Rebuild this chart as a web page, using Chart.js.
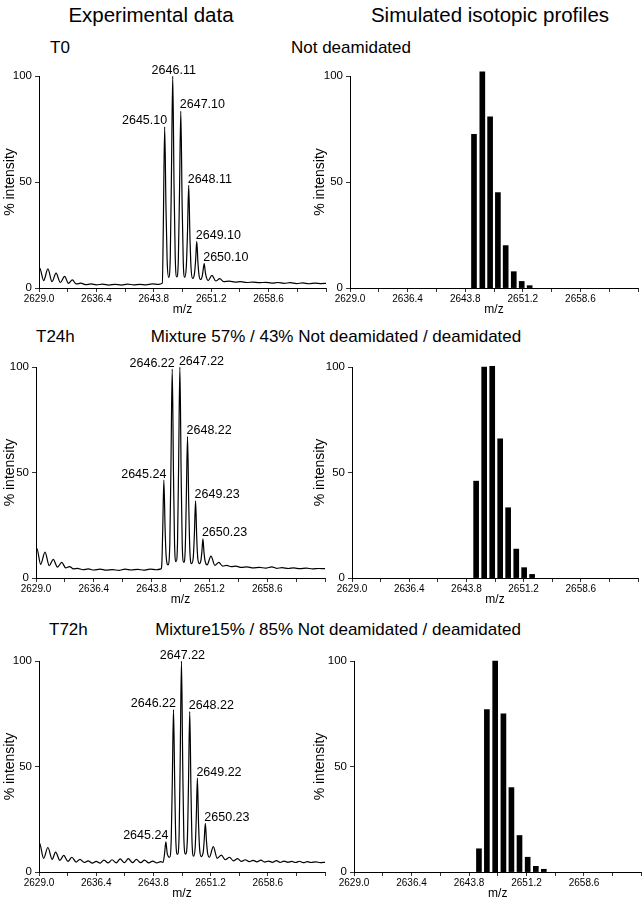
<!DOCTYPE html>
<html><head><meta charset="utf-8">
<script src="https://cdn.jsdelivr.net/npm/chart.js@4.4.1/dist/chart.umd.min.js"></script>
<style>
html,body{margin:0;padding:0;background:#fff;width:643px;height:899px;overflow:hidden;font-family:"Liberation Sans",Arial,sans-serif;}
.panel{position:absolute;}
.txt{position:absolute;white-space:nowrap;color:#000;line-height:1;transform:translate(-50%,-50%);}
.lt{position:absolute;white-space:nowrap;color:#000;line-height:1;transform:translate(0,-50%);}
</style></head><body>
<div class="txt" style="left:151px;top:15px;font-size:20.5px">Experimental data</div>
<div class="txt" style="left:490px;top:15px;font-size:20.5px">Simulated isotopic profiles</div>
<div class="lt" style="left:50px;top:47px;font-size:17px">T0</div>
<div class="txt" style="left:351px;top:47px;font-size:17px">Not deamidated</div>
<div class="lt" style="left:36px;top:336px;font-size:17px">T24h</div>
<div class="txt" style="left:336px;top:336px;font-size:17px">Mixture 57% / 43% Not deamidated / deamidated</div>
<div class="lt" style="left:49px;top:629px;font-size:17px">T72h</div>
<div class="txt" style="left:338px;top:629px;font-size:17px">Mixture15% / 85% Not deamidated / deamidated</div>

<div class="panel" style="left:0;top:56px;width:330px;height:261px"><canvas id="cL1"></canvas></div>
<div class="panel" style="left:310px;top:56px;width:333px;height:261px"><canvas id="cR1"></canvas></div>
<div class="panel" style="left:0;top:347px;width:330px;height:260px"><canvas id="cL2"></canvas></div>
<div class="panel" style="left:310px;top:347px;width:333px;height:260px"><canvas id="cR2"></canvas></div>
<div class="panel" style="left:0;top:641px;width:330px;height:260px"><canvas id="cL3"></canvas></div>
<div class="panel" style="left:310px;top:641px;width:333px;height:260px"><canvas id="cR3"></canvas></div>

<script>
// ---------- axis ticks ----------
const xTickValues = [2629.0, 2632.7, 2636.4, 2640.1, 2643.8, 2647.5, 2651.2, 2654.9, 2658.6, 2662.3, 2666.0];
const xTickLabels = ["2629.0", "", "2636.4", "", "2643.8", "", "2651.2", "", "2658.6", "", ""];
const yTickValues = [0, 50, 100];
const yTickLabels = ["0", "50", "100"];

// ---------- experimental spectra: [m/z, % intensity] ----------
const specT0 = [[2629.0,8.0],[2629.08,9.5],[2629.6,3.5],[2630.15,9.0],[2630.68,3.0],[2631.2,7.0],[2631.75,2.6],[2632.3,5.5],[2632.8,2.2],[2633.3,3.8],
 [2633.8,1.9],[2634.4,2.3],[2635.0,1.6],[2635.7,1.9],[2636.4,1.5],[2637.2,1.8],[2638.0,1.4],[2638.8,1.7],[2639.6,1.4],[2640.4,1.8],
 [2641.2,1.5],[2642.0,1.7],[2642.8,1.5],[2643.6,1.9],[2644.4,1.7],[2644.9,2.3],
 [2645.03,30],[2645.2,76],[2645.37,38],[2645.52,13],[2645.72,5],
 [2645.92,14],[2646.07,52],[2646.24,100],[2646.41,48],[2646.56,15],[2646.76,5.2],
 [2646.96,13],[2647.11,44],[2647.28,83.5],[2647.45,40],[2647.6,12],[2647.79,5],
 [2647.99,10],[2648.14,26],[2648.3,48.4],[2648.46,24],[2648.61,9],[2648.82,4.5],
 [2649.05,7],[2649.19,13],[2649.34,22],[2649.49,12],[2649.63,6],[2649.82,4],
 [2650.04,5.5],[2650.16,8.5],[2650.3,11.5],[2650.44,7.5],[2650.58,5],[2650.8,3.5],
 [2651.3,6],[2651.8,3.3],[2652.3,4.4],[2652.8,3.0],[2653.5,3.2],[2654.3,2.8],[2655.0,3.0],[2655.8,2.6],[2656.6,2.8],[2657.4,2.5],
 [2658.2,2.7],[2659.0,2.3],[2659.8,2.6],[2660.6,2.2],[2661.4,2.5],[2662.2,2.1],[2663.0,2.4],[2663.8,2.0],[2664.6,2.3],[2665.4,2.1],[2666.0,2.2]];

const specT24 = [[2629.0,12.5],[2629.1,14],[2629.6,6.5],[2630.15,12.3],[2630.7,5.8],[2631.2,8.8],[2631.75,5.2],[2632.3,7.4],[2632.8,4.8],[2633.3,5.4],
 [2633.8,4.3],[2634.3,4.6],[2635.0,3.9],[2635.7,4.3],[2636.4,3.8],[2637.2,4.2],[2638.0,3.7],[2638.8,4.0],[2639.6,3.6],[2640.4,4.2],
 [2641.2,3.8],[2642.0,4.1],[2642.8,3.7],[2643.6,4.2],[2644.4,3.9],[2645.0,4.3],
 [2645.1,6],[2645.22,22],[2645.37,46.4],[2645.53,23],[2645.67,10],[2645.9,6.2],
 [2646.13,16],[2646.28,54],[2646.44,99],[2646.6,50],[2646.74,16],[2646.93,7.7],
 [2647.12,17],[2647.26,54],[2647.42,100],[2647.58,50],[2647.72,16],[2647.92,7.4],
 [2648.1,13],[2648.24,37],[2648.4,67],[2648.56,34],[2648.71,12],[2648.92,6.8],
 [2649.14,10],[2649.28,21],[2649.43,36.6],[2649.58,19],[2649.72,9],[2649.92,6.8],
 [2650.12,8.5],[2650.24,12.5],[2650.37,18.5],[2650.51,12],[2650.65,8],[2650.9,6.2],
 [2651.4,10.4],[2651.9,6.0],[2652.4,7.4],[2652.9,5.6],[2653.4,6.0],[2654.0,5.4],[2654.6,5.6],[2655.3,5.0],[2656.0,5.3],[2656.8,4.8],
 [2657.6,5.0],[2658.4,4.7],[2659.2,5.3],[2659.8,4.6],[2660.5,4.9],[2661.3,4.5],[2662.0,4.8],[2662.8,4.4],[2663.6,4.7],[2664.4,4.3],[2665.2,4.5],[2666.0,4.4]];

const specT72 = [[2629.0,11],[2629.05,13.8],[2629.6,6.5],[2630.15,11.6],[2630.7,6.0],[2631.15,9.4],[2631.7,5.5],[2632.2,7.9],[2632.75,5.0],[2633.25,7.0],
 [2633.8,4.7],[2634.3,6.0],[2634.85,4.5],[2635.35,5.3],[2635.9,4.2],[2636.4,5.0],[2636.9,4.2],[2637.4,5.6],[2637.95,4.3],[2638.45,5.8],
 [2639.0,4.3],[2639.5,6.2],[2640.05,4.4],[2640.55,6.3],[2641.1,4.4],[2641.6,6.0],[2642.15,4.4],[2642.65,5.6],[2643.2,4.3],[2643.7,5.2],
 [2644.25,4.3],[2644.75,4.9],[2645.05,4.6],
 [2645.24,8.5],[2645.41,14.3],[2645.58,9],[2645.9,7.0],
 [2646.11,16],[2646.25,44],[2646.4,77],[2646.56,41],[2646.71,14],[2646.92,8.3],
 [2647.13,18],[2647.27,54],[2647.43,100],[2647.59,52],[2647.74,16],[2647.95,8.5],
 [2648.19,15],[2648.34,42],[2648.5,76],[2648.66,39],[2648.81,13],[2649.0,7.5],
 [2649.21,12],[2649.35,26],[2649.49,44.5],[2649.64,23],[2649.79,10.5],[2650.0,7.3],
 [2650.25,9.5],[2650.38,15.5],[2650.52,23],[2650.67,14.5],[2650.81,9],[2651.05,7.0],
 [2651.55,12],[2652.05,6.5],[2652.6,8],[2653.1,5.8],[2653.65,7],[2654.15,5.3],[2654.7,6.3],[2655.2,5.0],[2655.7,5.8],[2656.2,4.9],
 [2656.7,5.5],[2657.2,4.8],[2657.7,5.6],[2658.2,4.7],[2658.7,5.2],[2659.2,4.6],[2659.7,5.4],[2660.2,4.5],[2660.7,5.2],[2661.2,4.6],
 [2661.7,5.0],[2662.2,4.5],[2662.7,5.1],[2663.2,4.4],[2663.7,4.9],[2664.2,4.5],[2664.8,4.8],[2665.4,4.4],[2666.0,4.6]];

// ---------- labelled peaks ----------
const peaksT0_mz  = [2645.2, 2646.24, 2647.28, 2648.3, 2649.34, 2650.3];
const peaksT0_int = [76, 100, 83.5, 48.4, 22, 11.5];
const peaksT0_txt = ["2645.10", "2646.11", "2647.10", "2648.11", "2649.10", "2650.10"];

const peaksT24_mz  = [2645.37, 2646.44, 2647.42, 2648.4, 2649.43, 2650.37];
const peaksT24_int = [46.4, 99, 100, 67, 36.6, 18.5];
const peaksT24_txt = ["2645.24", "2646.22", "2647.22", "2648.22", "2649.23", "2650.23"];

const peaksT72_mz  = [2645.41, 2646.4, 2647.43, 2648.5, 2649.49, 2650.52];
const peaksT72_int = [14.3, 77, 100, 76, 44.5, 23];
const peaksT72_txt = ["2645.24", "2646.22", "2647.22", "2648.22", "2649.22", "2650.23"];

// ---------- simulated isotopic profiles ----------
const simT0_mz  = [2644.93, 2646.0, 2647.0, 2648.0, 2649.0, 2650.04, 2651.06, 2652.08];
const simT0_int = [72.5, 102, 80.7, 45, 20, 7.7, 3.1, 1.1];
const simT24_mz  = [2645.06, 2646.1, 2647.14, 2648.17, 2649.2, 2650.25, 2651.27, 2652.3];
const simT24_int = [45.9, 100, 100.3, 66, 33.3, 13.7, 4.9, 1.7];
const simT72_mz  = [2645.08, 2646.1, 2647.17, 2648.23, 2649.26, 2650.3, 2651.35, 2652.4, 2653.43];
const simT72_int = [11, 77, 100, 75, 40, 17.3, 7, 2.7, 1.3];

// ---------- styling / layout ----------
const FONT = '"Liberation Sans", Arial, sans-serif';
const alignT0  = ["right", "center", "left", "left", "left", "left"];
const alignT24 = ["right", "right", "left", "left", "left", "left"];
const alignT72 = ["right", "right", "center", "left", "left", "left"];

function labelPlugin(mz, inten, txt, align) {
  return {
    id: 'peakLabels',
    afterDatasetsDraw(chart) {
      const {ctx} = chart; const xs = chart.scales.x, ys = chart.scales.y;
      ctx.save();
      ctx.font = '12.5px ' + FONT;
      ctx.fillStyle = '#000';
      ctx.textBaseline = 'alphabetic';
      txt.forEach((t, i) => {
        const px = xs.getPixelForValue(mz[i]);
        const py = ys.getPixelForValue(inten[i]);
        const a = align[i];
        ctx.textAlign = a;
        const dx = a === 'right' ? 2.5 : (a === 'left' ? -1 : 1);
        ctx.fillText(t, px + dx, py - 2.5);
      });
      ctx.restore();
    }
  };
}

function scalesFor(yAxisWidth) {
  return {
    x: {
      type: 'linear', min: 2629.0, max: 2666.0, offset: false,
      afterBuildTicks: s => { s.ticks = xTickValues.map(v => ({value: v})); },
      afterFit: s => { s.height = 29; },
      ticks: {autoSkip: false, maxRotation: 0, padding: 1, color: '#000',
              font: {family: FONT, size: 10},
              callback: (v, i) => xTickLabels[i]},
      grid: {display: true, drawOnChartArea: false, drawTicks: true, tickLength: 4, color: '#000', lineWidth: 0.8, offset: false},
      border: {display: true, color: '#000', width: 1},
      title: {display: true, text: 'm/z', color: '#000', font: {family: FONT, size: 12}, padding: 0}
    },
    y: {
      type: 'linear', min: 0, max: 100,
      afterBuildTicks: s => { s.ticks = yTickValues.map(v => ({value: v})); },
      afterFit: s => { s.width = yAxisWidth; },
      ticks: {autoSkip: false, padding: 3, color: '#000', font: {family: FONT, size: 11.5},
              callback: (v, i) => yTickLabels[i]},
      grid: {display: true, drawOnChartArea: false, drawTicks: true, tickLength: 4, color: '#000', lineWidth: 0.8},
      border: {display: true, color: '#000', width: 1},
      title: {display: true, text: '% intensity', color: '#000', font: {family: FONT, size: 14}, padding: {top: 1.6, bottom: 0}}
    }
  };
}

function baseOptions(yAxisWidth, padRight) {
  return {
    responsive: true, maintainAspectRatio: false, animation: false, events: [],
    layout: {padding: {top: 20, right: padRight, bottom: 0, left: 0}},
    plugins: {legend: {display: false}, tooltip: {enabled: false}, title: {display: false}},
    scales: scalesFor(yAxisWidth)
  };
}

function spectrumChart(id, spec, pmz, pint, ptxt, palign, yw, pr) {
  new Chart(document.getElementById(id), {
    type: 'line',
    data: {datasets: [{
      data: spec.map(p => ({x: p[0], y: p[1]})),
      borderColor: '#000', borderWidth: 1.2, pointRadius: 0, fill: false,
      cubicInterpolationMode: 'monotone'
    }]},
    options: baseOptions(yw, pr),
    plugins: [labelPlugin(pmz, pint, ptxt, palign)]
  });
}

function simChart(id, mz, inten, yw, pr) {
  new Chart(document.getElementById(id), {
    type: 'bar',
    data: {datasets: [{
      data: mz.map((m, i) => ({x: m, y: inten[i]})),
      backgroundColor: '#000', borderWidth: 0, barThickness: 5, clip: false
    }]},
    options: baseOptions(yw, pr)
  });
}

spectrumChart('cL1', specT0, peaksT0_mz, peaksT0_int, peaksT0_txt, alignT0, 39, 4);
simChart('cR1', simT0_mz, simT0_int, 40, 5);
spectrumChart('cL2', specT24, peaksT24_mz, peaksT24_int, peaksT24_txt, alignT24, 36, 5);
simChart('cR2', simT24_mz, simT24_int, 42, 5);
spectrumChart('cL3', specT72, peaksT72_mz, peaksT72_int, peaksT72_txt, alignT72, 39, 5);
simChart('cR3', simT72_mz, simT72_int, 44, 1.5);
</script>
</body></html>
